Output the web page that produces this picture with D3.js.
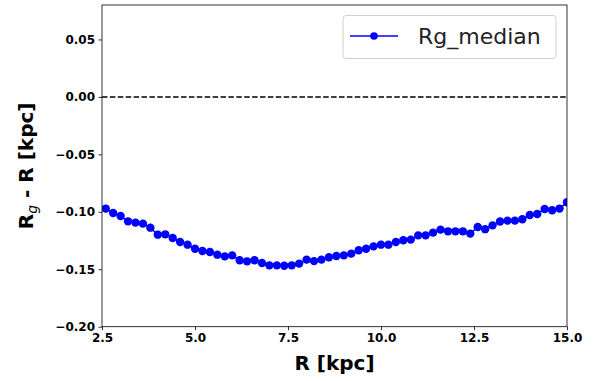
<!DOCTYPE html>
<html><head><meta charset="utf-8">
<script src="https://cdn.jsdelivr.net/npm/d3@7"></script>
<style>body{margin:0;background:#fff}svg{display:block}text{font-family:"DejaVu Sans",sans-serif}</style>
</head><body><svg id="c" width="612" height="381"></svg>
<script>
const R = [2.6,2.8,3.0,3.2,3.4,3.6,3.8,4.0,4.2,4.4,4.6,4.8,5.0,5.2,5.4,5.6,5.8,6.0,6.2,6.4,6.6,6.8,7.0,7.2,7.4,7.6,7.8,8.0,8.2,8.4,8.6,8.8,9.0,9.2,9.4,9.6,9.8,10.0,10.2,10.4,10.6,10.8,11.0,11.2,11.4,11.6,11.8,12.0,12.2,12.4,12.6,12.8,13.0,13.2,13.4,13.6,13.8,14.0,14.2,14.4,14.6,14.8,15.0];
const rgMedian = [-0.0972,-0.1010,-0.1037,-0.1083,-0.1094,-0.1103,-0.1138,-0.1199,-0.1196,-0.1228,-0.1263,-0.1286,-0.1321,-0.1341,-0.1350,-0.1373,-0.1388,-0.1379,-0.1422,-0.1431,-0.1422,-0.1446,-0.1466,-0.1466,-0.1469,-0.1466,-0.1451,-0.1416,-0.1429,-0.1416,-0.1396,-0.1385,-0.1379,-0.1364,-0.1335,-0.1321,-0.1301,-0.1286,-0.1286,-0.1263,-0.1248,-0.1242,-0.1205,-0.1205,-0.1181,-0.1155,-0.1170,-0.1170,-0.1170,-0.1190,-0.1132,-0.1151,-0.1118,-0.1085,-0.1077,-0.1077,-0.1065,-0.1028,-0.1019,-0.0976,-0.0987,-0.0972,-0.0917];
const xTicks = [2.5,5.0,7.5,10.0,12.5,15.0];
const yTicks = [0.05,0.00,-0.05,-0.10,-0.15,-0.20];
const seriesName = "Rg_median";

const L=102,Rt=567,T=5,B=326.7;
const svg=d3.select("#c");
const x=d3.scaleLinear().domain([2.5,15]).range([L,Rt]);
const y=d3.scaleLinear().domain([-0.2,0.08]).range([B,T]);
const fmt=v=>(v<0?"\u2212":"")+Math.abs(v).toFixed(2);

svg.append("defs").append("clipPath").attr("id","clip").append("rect")
  .attr("x",L).attr("y",T).attr("width",Rt-L).attr("height",B-T);

// dashed zero line
svg.append("line").attr("x1",L).attr("x2",Rt).attr("y1",y(0)).attr("y2",y(0))
  .attr("stroke","#000").attr("stroke-width",1.5).attr("stroke-dasharray","5.5,2.4");

const g=svg.append("g").attr("clip-path","url(#clip)");
const pts=R.map((r,i)=>[r,rgMedian[i]]);
g.append("path").attr("d",d3.line().x(d=>x(d[0])).y(d=>y(d[1]))(pts))
  .attr("fill","none").attr("stroke","#0000ff").attr("stroke-width",1.5);
g.selectAll("circle").data(pts).join("circle")
  .attr("cx",d=>x(d[0])).attr("cy",d=>y(d[1])).attr("r",4.2).attr("fill","#0000ff");

// axes
const xa=svg.append("g").attr("transform",`translate(0,${B})`)
  .call(d3.axisBottom(x).tickValues(xTicks).tickFormat(d3.format(".1f")).tickSize(3.5).tickPadding(3.5));
const ya=svg.append("g").attr("transform",`translate(${L},0)`)
  .call(d3.axisLeft(y).tickValues(yTicks).tickFormat(fmt).tickSize(3.5).tickPadding(3.5));
[xa,ya].forEach(a=>{a.select(".domain").remove();
  a.selectAll("text").attr("font-family","DejaVu Sans").attr("font-weight","bold").attr("font-size",12).attr("fill","#000");
  a.selectAll("line").attr("stroke","#000").attr("stroke-width",0.8);});

svg.append("rect").attr("x",L).attr("y",T).attr("width",Rt-L).attr("height",B-T)
  .attr("fill","none").attr("stroke","#000").attr("stroke-width",0.8);

// labels
svg.append("text").attr("x",(L+Rt)/2).attr("y",370).attr("text-anchor","middle")
  .attr("font-weight","bold").attr("font-size",20).text("R [kpc]");
const yl=svg.append("text").attr("transform",`translate(33,${(T+B)/2}) rotate(-90)`)
  .attr("text-anchor","middle").attr("font-weight","bold").attr("font-size",20);
yl.append("tspan").text("R");
yl.append("tspan").attr("font-style","italic").attr("font-weight","normal").attr("font-size",14).attr("dy",4).text("g");
yl.append("tspan").attr("dy",-4).text(" - R [kpc]");

// legend
const lg=svg.append("g");
lg.append("rect").attr("x",343).attr("y",15.5).attr("width",213).attr("height",43).attr("rx",3)
  .attr("fill","#fff").attr("fill-opacity",0.8).attr("stroke","#d0d0d0").attr("stroke-width",1);
lg.append("line").attr("x1",350).attr("x2",398).attr("y1",36).attr("y2",36).attr("stroke","#0000ff").attr("stroke-width",1.5);
lg.append("circle").attr("cx",374).attr("cy",36).attr("r",3.8).attr("fill","#0000ff");
lg.append("text").attr("x",418).attr("y",44).attr("font-size",22).attr("fill","#222").text(seriesName);
</script></body></html>
